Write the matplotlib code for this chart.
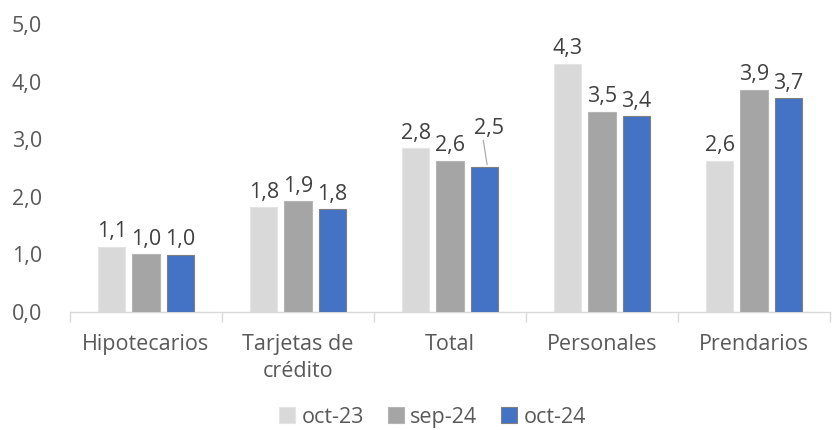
import matplotlib.pyplot as plt
import numpy as np

plt.rcParams['font.family'] = ['Open Sans', 'DejaVu Sans']

categories = ["Hipotecarios", "Tarjetas de\ncrédito", "Total", "Personales", "Prendarios"]
series_names = ["oct-23", "sep-24", "oct-24"]
oct23 = [1.13, 1.82, 2.84, 4.31, 2.62]
sep24 = [1.00, 1.92, 2.63, 3.48, 3.86]
oct24 = [0.99, 1.78, 2.51, 3.40, 3.71]
yticks = [0, 1, 2, 3, 4, 5]

colors = ["#D9D9D9", "#A5A5A5", "#4472C4"]
edges = ["#E4E4E4", "#B5B5B5", "#7F7F7F"]
text_col = "#404040"
axis_col = "#595959"
fs = 15.5

fig = plt.figure(figsize=(8.35, 4.3), dpi=100)
ax = fig.add_axes([70 / 835, 1 - 312 / 430, 760 / 835, 288 / 430])

x = np.arange(len(categories))
w = 0.178
step = 0.224
values = [oct23, sep24, oct24]
for k, (vals, name) in enumerate(zip(values, series_names)):
    pos = x + (k - 1) * step
    ax.bar(pos, vals, width=w, color=colors[k], edgecolor=edges[k],
           linewidth=0.8, label=name, zorder=3)
    for i, (px, v) in enumerate(zip(pos, vals)):
        lab = f"{v:.1f}".replace(".", ",")
        if i == 2 and k == 2:
            # leader line for the displaced label
            ax.plot([px + 0.02, px - 0.005], [v + 0.05, v + 0.47],
                    color="#A5A5A5", linewidth=0.8, zorder=4)
            ax.text(px + 0.03, v + 0.5, lab, ha="center", va="bottom",
                    fontsize=fs, color=text_col)
        else:
            ax.text(px, v + 0.08, lab, ha="center", va="bottom",
                    fontsize=fs, color=text_col)

ax.set_xlim(-0.5, len(categories) - 0.5)
ax.set_ylim(0, 5)
ax.set_yticks(yticks)
ax.set_yticklabels([f"{t:.1f}".replace(".", ",") for t in yticks],
                   fontsize=fs, color=axis_col)
ax.tick_params(axis="y", length=0, pad=20)

ax.set_xticks(x)
ax.set_xticklabels(categories, fontsize=fs, color=axis_col, linespacing=1.35)
ax.tick_params(axis="x", length=0, pad=16)
ax.set_xticks(np.arange(-0.5, len(categories)), minor=True)
ax.tick_params(axis="x", which="minor", length=7, color="#D9D9D9", width=1)

for s in ["top", "right", "left"]:
    ax.spines[s].set_visible(False)
ax.spines["bottom"].set_color("#D9D9D9")
ax.spines["bottom"].set_linewidth(1)

fig.legend(loc="lower center", bbox_to_anchor=(0.518, -0.04), ncol=3,
           frameon=False, fontsize=fs, handlelength=0.75, handleheight=0.75,
           handletextpad=0.3, columnspacing=1.1, labelcolor=axis_col)

fig.savefig("out.png", dpi=100)
